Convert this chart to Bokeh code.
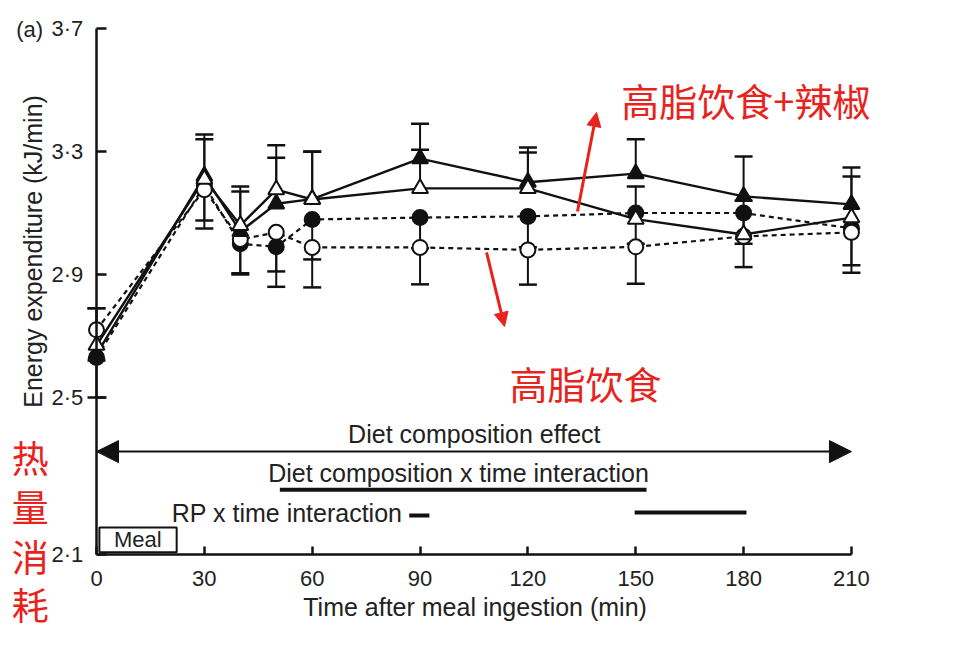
from bokeh.plotting import figure
from bokeh.models import (ColumnDataSource, Whisker, TeeHead, Arrow, NormalHead,
                          Label, FixedTicker, LinearAxis)
from bokeh.embed import file_html
from bokeh.resources import INLINE

# ---------------- data ----------------
times = [0, 30, 40, 50, 60, 90, 120, 150, 180, 210]

tri_filled = [2.64, 3.22, 3.04, 3.13, 3.145, 3.277, 3.20, 3.228, 3.154, 3.128]
tri_open = [2.67, 3.21, 3.06, 3.176, 3.144, 3.18, 3.18, 3.08, 3.03, 3.085]
circ_filled = [2.63, 3.19, 3.00, 2.99, 3.079, 3.085, 3.089, 3.10, 3.10, 3.05]
circ_open = [2.72, 3.176, 3.014, 3.037, 2.988, 2.988, 2.98, 2.99, 3.024, 3.037]

tri_filled_se = [0.15, 0.135, 0.13, 0.15, 0.155, 0.113, 0.113, 0.112, 0.13, 0.12]
tri_open_se = [0.12, 0.13, 0.126, 0.144, 0.155, 0.126, 0.117, 0.106, 0.11, 0.134]
circ_filled_se = [0.13, 0.14, 0.10, 0.13, 0.13, 0.10, 0.10, 0.10, 0.10, 0.144]
circ_open_se = [0.10, 0.10, 0.11, 0.127, 0.13, 0.12, 0.113, 0.12, 0.10, 0.107]

x_ticks = [0, 30, 60, 90, 120, 150, 180, 210]
y_ticks = [2.5, 2.9, 3.3, 3.7]
y_tick_labels = ["2·5", "2·9", "3·3", "3·7"]
y_break_label = "2·1"

x_label = "Time after meal ingestion (min)"
y_label = "Energy expenditure (kJ/min)"

# ---------------- geometry ----------------
Y0 = 1.99            # bottom of the (broken) y axis, labelled 2·1
PX_X = 3.595         # px per minute
PX_Y = 307.5         # px per kJ/min
X0_PAGE, Y37_PAGE = 97, 29
OFF = 1
F_LEFT, F_TOP, F_W, F_H = 5, 5, 900, 635
xr = ((F_LEFT - X0_PAGE) / PX_X, (F_LEFT + F_W - X0_PAGE) / PX_X)
yr = (3.7 - (F_TOP + F_H - Y37_PAGE) / PX_Y, 3.7 + (Y37_PAGE - F_TOP) / PX_Y)

FONT = "Liberation Sans"
BLACK = "#111111"
TXT = "#222222"
RED = "#e8221c"
CJK = "Noto Sans CJK SC"

p = figure(frame_width=F_W, frame_height=F_H, x_range=xr, y_range=yr,
           x_axis_location=None, y_axis_location=None,
           min_border_left=F_LEFT - OFF, min_border_top=F_TOP - OFF,
           min_border_right=4, min_border_bottom=2,
           output_backend="svg", toolbar_location=None)
p.outline_line_color = None
p.grid.visible = False

xaxis = LinearAxis(fixed_location=Y0, bounds=(0, 210), ticker=FixedTicker(ticks=x_ticks),
                   major_tick_in=0, major_tick_out=8, major_label_standoff=-40)
yaxis = LinearAxis(fixed_location=0, bounds=(Y0, 3.7), ticker=FixedTicker(ticks=[Y0] + y_ticks),
                   major_tick_in=0, major_tick_out=10, major_label_standoff=-55)
overrides = {Y0: y_break_label}
for v, s in zip(y_ticks, y_tick_labels):
    overrides[v] = s
yaxis.major_label_overrides = overrides
for ax in (xaxis, yaxis):
    ax.axis_line_width = 2.5
    ax.axis_line_color = BLACK
    ax.major_tick_line_width = 2.5
    ax.major_tick_line_color = BLACK
    ax.minor_tick_line_color = None
    ax.major_label_text_font = FONT
    ax.major_label_text_font_size = "22px"
    ax.major_label_text_color = TXT
p.add_layout(xaxis, "above")
p.add_layout(yaxis, "right")

def lab(x, y, text, size="25px", font=FONT, color=TXT, align="center", angle=0):
    p.add_layout(Label(x=x, y=y, text=text, angle=angle, angle_units="deg",
                       text_align=align, text_baseline="middle",
                       text_font=font, text_font_size=size, text_color=color))

lab(105.3, 1.820, x_label)
lab(-17.8, 2.975, y_label, angle=90)
lab(-18.6, 3.697, "(a)", size="22px")

# error bars
def add_err(vals, se, up):
    if up:
        src = ColumnDataSource(dict(x=times, lo=vals, hi=[v + e for v, e in zip(vals, se)]))
        w = Whisker(source=src, base="x", lower="lo", upper="hi", dimension="height",
                    line_color=BLACK, line_width=2,
                    upper_head=TeeHead(size=18, line_width=2.5, line_color=BLACK),
                    lower_head=None, level="underlay")
    else:
        src = ColumnDataSource(dict(x=times, hi=vals, lo=[v - e for v, e in zip(vals, se)]))
        w = Whisker(source=src, base="x", lower="lo", upper="hi", dimension="height",
                    line_color=BLACK, line_width=2,
                    lower_head=TeeHead(size=18, line_width=2.5, line_color=BLACK),
                    upper_head=None, level="underlay")
    p.add_layout(w)

add_err(tri_filled, tri_filled_se, True)
add_err(tri_open, tri_open_se, True)
add_err(circ_filled, circ_filled_se, False)
add_err(circ_open, circ_open_se, False)

# lines
p.line(times, circ_filled, line_color=BLACK, line_width=2.2, line_dash="5 4")
p.line(times, circ_open, line_color=BLACK, line_width=2.2, line_dash="5 4")
p.line(times, tri_open, line_color=BLACK, line_width=2.4)
p.line(times, tri_filled, line_color=BLACK, line_width=2.4)

# markers
p.scatter(times, circ_filled, marker="circle", size=15, fill_color=BLACK, line_color=BLACK, line_width=2)
p.scatter(times, circ_open, marker="circle", size=15, fill_color="white", line_color=BLACK, line_width=2)
p.scatter(times, tri_filled, marker="triangle", size=16, fill_color=BLACK, line_color=BLACK, line_width=2)
p.scatter(times, tri_open, marker="triangle", size=16, fill_color="white", line_color=BLACK, line_width=2)

# statistics annotations
p.add_layout(Arrow(x_start=0, y_start=2.324, x_end=210, y_end=2.324,
                   line_color=BLACK, line_width=2,
                   start=NormalHead(size=22, fill_color=BLACK, line_color=BLACK),
                   end=NormalHead(size=22, fill_color=BLACK, line_color=BLACK)))
lab(105.1, 2.38, "Diet composition effect")
lab(100.7, 2.253, "Diet composition x time interaction")
p.segment(x0=[51], y0=[2.2], x1=[153], y1=[2.2], line_color=BLACK, line_width=4)
lab(85.1, 2.123, "RP x time interaction", align="right")
p.segment(x0=[87, 149.7], y0=[2.116, 2.126], x1=[92.6, 180.8], y1=[2.116, 2.126],
          line_color=BLACK, line_width=4)

# Meal box
p.quad(left=[0.8], right=[22.3], bottom=[1.997], top=[2.077],
       fill_color="white", line_color=BLACK, line_width=2)
lab(11.5, 2.037, "Meal", size="22px")

# red Chinese annotations
lab(146, 3.469, "高脂饮食+辣椒", size="38px", font=CJK, color=RED, align="left")
lab(114.9, 2.549, "高脂饮食", size="38px", font=CJK, color=RED, align="left")
p.add_layout(Arrow(x_start=133.8, y_start=3.105, x_end=139.1, y_end=3.427,
                   line_color=RED, line_width=3,
                   end=NormalHead(size=14, fill_color=RED, line_color=RED)))
p.add_layout(Arrow(x_start=108.5, y_start=2.972, x_end=113.5, y_end=2.731,
                   line_color=RED, line_width=3,
                   end=NormalHead(size=14, fill_color=RED, line_color=RED)))
for ch, yy in zip("热量消耗", [2.308, 2.146, 1.983, 1.827]):
    lab(-18.4, yy, ch, size="37px", font=CJK, color=RED)

open("out.html", "w").write(file_html(p, INLINE))
